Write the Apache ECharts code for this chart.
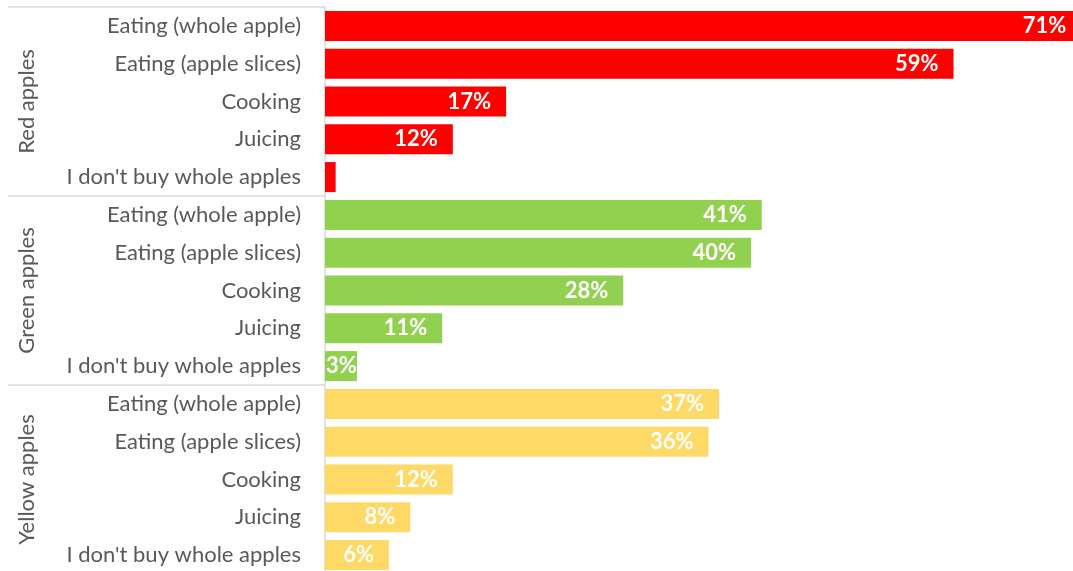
<!DOCTYPE html>
<html>
<head>
<meta charset="utf-8">
<script src="https://cdn.jsdelivr.net/npm/echarts@6/dist/echarts.min.js"></script>
<style>
  html, body { margin: 0; padding: 0; background: #fff; overflow: hidden; }
  /* the chart is a little larger than the page, so its right and bottom edges are cut off */
  #chart { width: 1092px; height: 574px; }
</style>
</head>
<body>
<div id="chart"></div>
<script>
// Apple varieties and the ways people use them (share of respondents, %)
const groups = ['Red apples', 'Green apples', 'Yellow apples'];
const uses = ['Eating (whole apple)', 'Eating (apple slices)', 'Cooking', 'Juicing', "I don't buy whole apples"];
const redValues = [71, 59, 17, 12, 1];
const greenValues = [41, 40, 28, 11, 3];
const yellowValues = [37, 36, 12, 8, 6];
const groupColors = ['#ff0000', '#92d050', '#ffd966'];

const FONT = 'Lato';
const seriesValues = [redValues, greenValues, yellowValues];

// one category per (group, use) pair; keys keep them unique
const categories = [];
groups.forEach((g, gi) => uses.forEach((u) => categories.push(gi + '|' + u)));

const series = groups.map((g, gi) => {
  const data = categories.map(() => '-');
  seriesValues[gi].forEach((v, ui) => {
    const item = { value: v };
    // tiny bars: the value sits at the left edge, or is not shown at all
    if (v < 2) item.label = { show: false };
    else if (v < 5) item.label = { position: 'insideLeft', distance: 1 };
    data[gi * uses.length + ui] = item;
  });
  return {
    name: g,
    type: 'bar',
    stack: 'all',
    barWidth: 30,
    itemStyle: { color: groupColors[gi] },
    label: {
      show: true,
      position: 'insideRight',
      distance: 15,
      formatter: '{c}%',
      color: '#ffffff',
      fontFamily: FONT,
      fontWeight: 'bold',
      fontSize: 22
    },
    data: data
  };
});

const chart = echarts.init(document.getElementById('chart'));
chart.setOption({
  animation: false,
  grid: { left: 325, top: 7, right: 0, bottom: 0, containLabel: false },
  xAxis: {
    type: 'value',
    min: 0,
    max: 72,
    show: false,
    splitLine: { show: false }
  },
  yAxis: [
    {
      type: 'category',
      data: categories,
      inverse: true,
      position: 'left',
      axisLine: { show: true, lineStyle: { color: '#d9d9d9', width: 1.5 } },
      axisTick: { show: false },
      axisLabel: {
        margin: 24,
        color: '#595959',
        fontFamily: FONT,
        fontSize: 22,
        formatter: (v) => v.split('|')[1]
      }
    },
    {
      type: 'category',
      data: groups,
      inverse: true,
      position: 'left',
      offset: 0,
      axisLine: { show: false },
      axisTick: {
        show: true,
        alignWithLabel: false,
        length: 317,
        lineStyle: { color: '#d9d9d9', width: 1.5 }
      },
      axisLabel: {
        rotate: 90,
        margin: 287,
        color: '#595959',
        fontFamily: FONT,
        fontSize: 22
      }
    }
  ],
  series: series
});
</script>
</body>
</html>
